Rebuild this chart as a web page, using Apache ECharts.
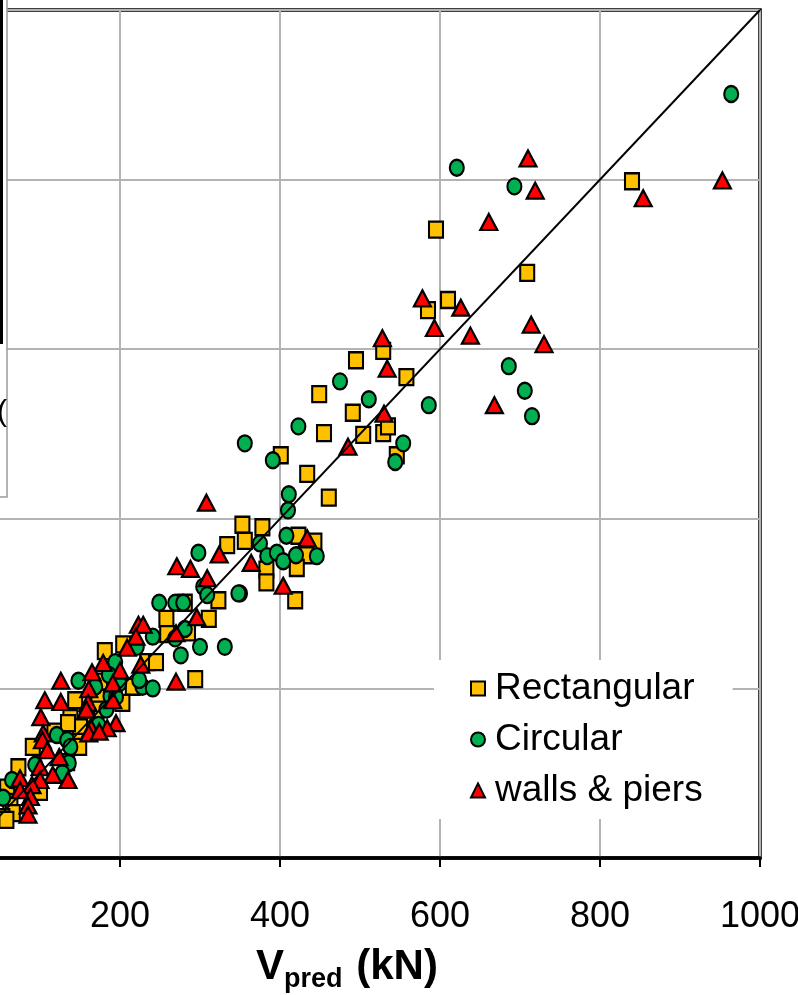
<!DOCTYPE html>
<html>
<head>
<meta charset="utf-8">
<script src="https://cdn.jsdelivr.net/npm/echarts@6/dist/echarts.min.js"></script>
<style>
  html, body { margin: 0; padding: 0; background: #fff; }
  #chart { width: 798px; height: 995px; }
</style>
</head>
<body>
<div id="chart"></div>
<script>
// Shear strength: predicted vs. measured (kN)
const xTicks = [0, 200, 400, 600, 800, 1000];
const yTicks = [0, 200, 400, 600, 800, 1000];

// [V_pred, V_exp] pairs per specimen type
const rectangular = [
  [840, 798], [595, 741], [709, 690], [610, 658], [585, 646], [529, 598], [495, 587],
  [558, 567], [449, 547], [491, 525], [529, 501], [535, 509], [504, 499], [455, 501],
  [546, 475], [401, 475], [434, 453], [461, 425], [353, 393], [378, 390], [356, 374],
  [423, 380], [443, 373], [433, 357], [383, 340], [383, 325], [421, 342], [419, 304],
  [334, 369], [323, 304], [311, 282], [281, 301], [258, 282], [285, 266], [259, 264],
  [294, 211], [204, 252], [181, 244], [234, 231], [245, 231], [216, 202], [175, 208],
  [173, 189], [144, 186], [203, 183], [171, 175], [138, 165], [159, 163], [150, 154],
  [118, 149], [146, 137], [91, 131], [149, 131], [135, 159], [134, 113], [73, 107],
  [59, 83], [100, 78], [63, 66], [66, 53], [53, 48], [58, 45]
];
const circular = [
  [964, 901], [621, 814], [693, 792], [686, 580], [706, 551], [715, 521], [586, 534],
  [475, 562], [511, 541], [356, 489], [391, 469], [423, 509], [554, 489], [544, 467],
  [411, 429], [410, 410], [375, 371], [408, 380], [384, 356], [396, 360], [404, 350],
  [420, 357], [446, 356], [350, 312], [298, 360], [304, 320], [309, 310], [348, 312],
  [249, 301], [269, 301], [279, 301], [281, 270], [269, 259], [241, 261], [300, 249],
  [331, 249], [276, 239], [221, 249], [194, 231], [228, 202], [241, 200], [186, 216],
  [148, 209], [199, 206], [224, 210], [169, 202], [188, 191], [195, 190], [183, 175],
  [173, 157], [121, 145], [134, 139], [138, 131], [136, 112], [94, 110], [128, 100],
  [65, 92], [54, 71]
];
const wallsPiers = [
  [710, 825], [719, 787], [953, 799], [854, 778], [661, 750], [578, 660], [593, 625],
  [626, 649], [638, 616], [714, 629], [730, 606], [668, 534], [528, 613], [534, 577],
  [530, 524], [485, 485], [308, 419], [434, 377], [364, 348], [324, 358], [271, 344],
  [288, 341], [309, 330], [404, 321], [296, 284], [223, 275], [229, 275], [270, 265],
  [220, 261], [209, 248], [226, 228], [200, 221], [179, 230], [270, 208], [191, 206],
  [165, 219], [126, 209], [161, 199], [106, 186], [126, 184], [160, 183], [191, 186],
  [101, 166], [158, 175], [195, 159], [184, 153], [164, 153], [104, 147], [161, 147],
  [174, 149], [103, 139], [109, 127], [124, 119], [100, 107], [116, 98], [135, 92],
  [75, 94], [100, 92], [90, 86], [75, 80], [88, 72], [85, 62], [85, 51]
];
// 1:1 reference line
const equalityLine = [[0, 0], [1000, 1000]];

const FONT = '"Liberation Sans", Arial, Helvetica, sans-serif';
const markerBorder = { borderColor: '#000', borderWidth: 2.2, opacity: 1 };

const chart = echarts.init(document.getElementById('chart'), null, { renderer: 'canvas' });

chart.setOption({
  animation: false,
  backgroundColor: '#fff',
  grid: {
    left: -40, right: 38, top: 10, bottom: 137,
    containLabel: false,
    outerBoundsMode: 'none',
    show: true, borderColor: '#000', borderWidth: 3.5, backgroundColor: '#fff'
  },
  xAxis: {
    type: 'value',
    min: xTicks[0], max: xTicks[xTicks.length - 1], interval: 200,
    axisLine: { lineStyle: { color: '#000', width: 3.5 } },
    axisTick: { show: true, inside: false, length: 9, lineStyle: { color: '#000', width: 2 } },
    axisLabel: {
      color: '#000', fontSize: 36, fontFamily: FONT, margin: 41,
      formatter: function (v) { return String(v); }
    },
    splitLine: { show: true, lineStyle: { color: '#b3b3b3', width: 2 } },
    name: '{v|V}{s|pred}{v| (kN)}',
    nameLocation: 'middle',
    nameGap: 88,
    nameTextStyle: {
      padding: [0, 26, 0, 0],
      rich: {
        v: { fontSize: 42, fontWeight: 'bold', fontFamily: FONT, color: '#000', lineHeight: 42 },
        s: { fontSize: 27, fontWeight: 'bold', fontFamily: FONT, color: '#000', lineHeight: 27, padding: [26, 2, 0, 0] }
      }
    }
  },
  yAxis: {
    type: 'value',
    min: yTicks[0], max: yTicks[yTicks.length - 1], interval: 200,
    axisLine: { show: false },
    axisTick: { show: false },
    axisLabel: { show: false },
    splitLine: { show: true, lineStyle: { color: '#b3b3b3', width: 2 } }
  },
  legend: {
    orient: 'vertical',
    left: 434, top: 660,
    padding: [10, 30, 10, 36],
    backgroundColor: '#fff',
    itemWidth: 14, itemHeight: 14, itemGap: 14,
    textStyle: { fontSize: 37, fontFamily: FONT, color: '#000', padding: [0, 0, 0, 5] },
    data: ['Rectangular', 'Circular', 'walls & piers']
  },
  series: [
    {
      name: 'Rectangular', type: 'scatter', data: rectangular,
      symbol: 'rect', symbolSize: [14, 16],
      itemStyle: Object.assign({ color: '#FFC000' }, markerBorder), z: 3
    },
    {
      name: 'Circular', type: 'scatter', data: circular,
      symbol: 'circle', symbolSize: [14, 16],
      itemStyle: Object.assign({ color: '#00B050' }, markerBorder), z: 4
    },
    {
      name: 'walls & piers', type: 'scatter', data: wallsPiers,
      symbol: 'triangle', symbolSize: [17, 16],
      itemStyle: Object.assign({ color: '#FF0000' }, markerBorder), z: 5
    },
    {
      type: 'line', data: equalityLine, symbol: 'none', silent: true,
      lineStyle: { color: '#000', width: 2 }, z: 6
    }
  ],
  graphic: [
    // Edge of the neighbouring text box on the left
    { type: 'rect', shape: { x: -20, y: -5, width: 27, height: 502 },
      style: { fill: '#fff', stroke: '#9a9a9a', lineWidth: 1.5 }, z: 100 },
    { type: 'line', shape: { x1: 1.5, y1: 0, x2: 1.5, y2: 344 },
      style: { stroke: '#000', lineWidth: 3 }, z: 101 },
    { type: 'text', left: -3, top: 398,
      style: { text: '(', fontSize: 30, fontFamily: FONT, fill: '#000' }, z: 101 }
  ]
});
</script>
</body>
</html>
